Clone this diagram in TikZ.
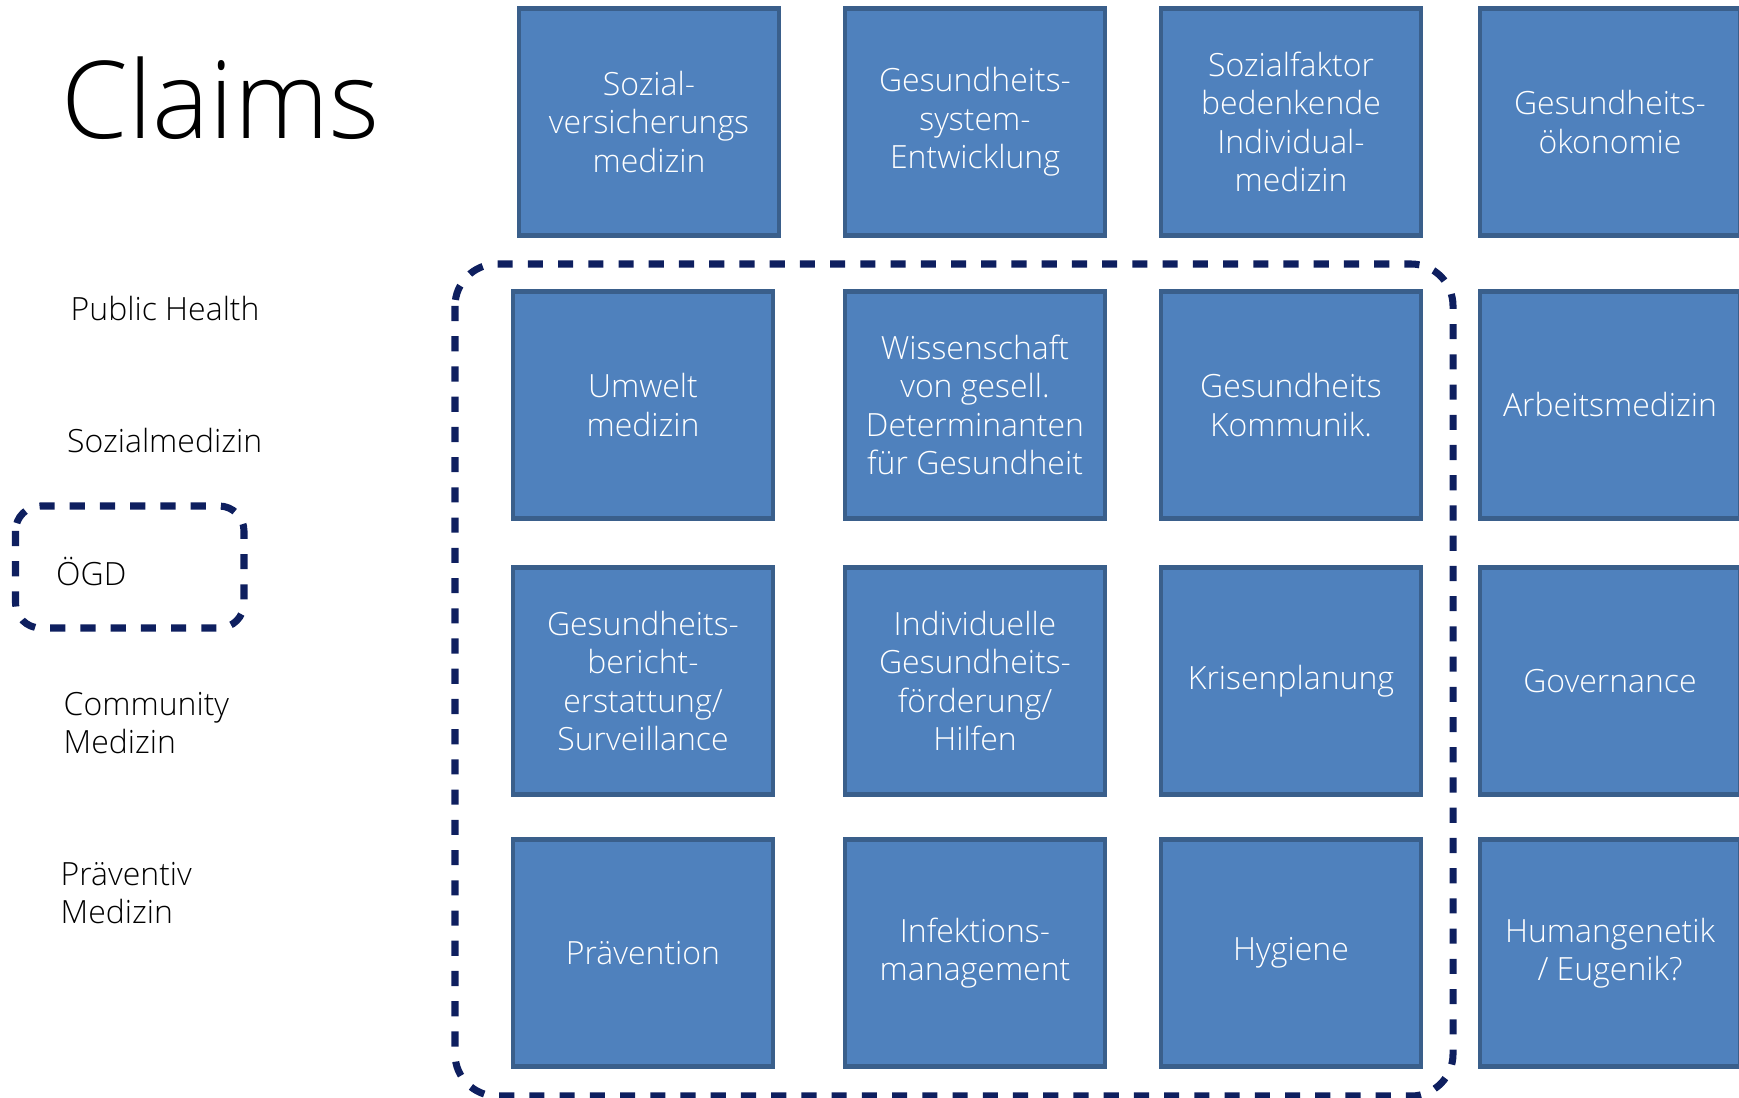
\documentclass[tikz,border=0pt]{standalone}
\usepackage{fontspec}
\setmainfont{Open Sans}[UprightFont={* Light}]
\usetikzlibrary{positioning}
\definecolor{boxblue}{HTML}{4F81BD}
\definecolor{boxedge}{HTML}{3A5F8B}
\definecolor{navy}{HTML}{0E1F5F}

\begin{document}
\begin{tikzpicture}[node distance=3.19cm, on grid,
    field/.style={draw=boxedge, fill=boxblue, line width=1.2pt, minimum width=2.6cm, minimum height=2.27cm,
        inner sep=0pt, text=white, align=center, font=\fontsize{9.1}{10.9}\selectfont},
    side/.style={anchor=west, align=left, inner sep=0pt, font=\fontsize{9.1}{10.9}\selectfont},
    claimgroup/.style={draw=navy, line width=2pt, dash pattern=on 4.3pt off 4.3pt}]
    \clip (0,0) rectangle (17.39,-10.98);

    \node[side, anchor=base west, font=\fontsize{30.6}{37}\selectfont] (claims) at (0.61,-1.386) {Claims};
    \node[side] (ph) at (0.70,-3.083) {Public Health};
    \node[side] (sm) at (0.665,-4.403) {Sozialmedizin};
    \node[side] (ogd) at (0.555,-5.711) {ÖGD};
    \node[side] (cm) at (0.63,-7.23) {Community\\Medizin};
    \node[side] (pm) at (0.60,-8.93) {Präventiv\\Medizin};

    \node[field] (sv) at (6.49,-1.22) {Sozial-\\versicherungs\\medizin};
    \node[field] (se) [right=3.26cm of sv] {Gesundheits-\\system-\\Entwicklung};
    \node[field] (im) [right=3.16cm of se] {Sozialfaktor\\bedenkende\\Individual-\\medizin};
    \node[field] (ok) [right=of im] {Gesundheits-\\ökonomie};

    \node[field] (um) at (6.43,-4.05) {Umwelt\\medizin};
    \node[field] (wd) [right=3.32cm of um] {Wissenschaft\\von gesell.\\Determinanten\\für Gesundheit};
    \node[field] (gk) [right=3.16cm of wd] {Gesundheits\\Kommunik.};
    \node[field] (am) [right=of gk] {Arbeitsmedizin};

    \node[field] (gb) at (6.43,-6.81) {Gesundheits-\\bericht-\\erstattung/\\Surveillance};
    \node[field] (if) [right=3.32cm of gb] {Individuelle\\Gesundheits-\\förderung/\\Hilfen};
    \node[field] (kp) [right=3.16cm of if] {Krisenplanung};
    \node[field] (gv) [right=of kp] {Governance};

    \node[field] (pv) at (6.43,-9.53) {Prävention};
    \node[field] (mg) [right=3.32cm of pv] {Infektions-\\management};
    \node[field] (hy) [right=3.16cm of mg] {Hygiene};
    \node[field] (hg) [right=of hy] {Humangenetik\\/ Eugenik?};

    \draw[claimgroup, rounded corners=0.25cm] (0.155,-5.06) rectangle (2.44,-6.28);
    \draw[claimgroup, rounded corners=0.42cm] (4.55,-2.64) rectangle (14.53,-10.96);
\end{tikzpicture}
\end{document}
